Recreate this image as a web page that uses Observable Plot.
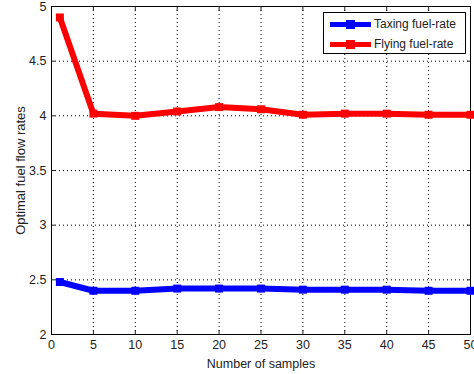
<!DOCTYPE html>
<html>
<head>
<meta charset="utf-8">
<script src="https://cdn.jsdelivr.net/npm/d3@7"></script>
<script src="https://cdn.jsdelivr.net/npm/@observablehq/plot@0.6"></script>
<style>
  html, body { margin: 0; padding: 0; background: #fff; }
  #wrap { position: relative; width: 474px; height: 374px; }
  #legend { position: absolute; left: 323px; top: 12px; width: 141px; height: 40px;
    border: 1px solid #000; background: #fff; font: 12px "Liberation Sans", Arial, sans-serif; color: #222; }
  .row { position: absolute; left: 6px; height: 14px; display: flex; align-items: center; }
  .sw { position: relative; width: 41px; height: 5px; margin-right: 3px; }
  .sw i { position: absolute; left: 16px; top: -2px; width: 9px; height: 9px; }
</style>
</head>
<body>
<div id="wrap"></div>
<script>
const samples = [1, 5, 10, 15, 20, 25, 30, 35, 40, 45, 50];
const taxing = [2.48, 2.40, 2.40, 2.42, 2.42, 2.42, 2.41, 2.41, 2.41, 2.40, 2.40];
const flying = [4.90, 4.02, 4.00, 4.04, 4.08, 4.06, 4.01, 4.02, 4.02, 4.01, 4.01];
const xTicks = [0, 5, 10, 15, 20, 25, 30, 35, 40, 45, 50];
const yTicks = [2, 2.5, 3, 3.5, 4, 4.5, 5];
const seriesNames = ["Taxing fuel-rate", "Flying fuel-rate"];
const seriesColors = ["#0000ff", "#ff0000"];

const data = [];
samples.forEach((s, i) => {
  data.push({x: s, y: taxing[i], series: seriesNames[0]});
  data.push({x: s, y: flying[i], series: seriesNames[1]});
});

const font = '"Liberation Sans", Arial, sans-serif';
const chart = Plot.plot({
  width: 474,
  height: 374,
  marginLeft: 51,
  marginRight: 4,
  marginTop: 6,
  marginBottom: 40,
  style: {fontFamily: font, fontSize: "12px", color: "#222", background: "#fff"},
  x: {domain: [0, 50]},
  y: {domain: [2, 5]},
  color: {domain: seriesNames, range: seriesColors},
  marks: [
    Plot.gridX(xTicks.filter(t => t > 0 && t < 50), {stroke: "#000", strokeOpacity: 1, strokeWidth: 1, strokeDasharray: "1,3"}),
    Plot.gridY(yTicks.filter(t => t > 2 && t < 5), {stroke: "#000", strokeOpacity: 1, strokeWidth: 1, strokeDasharray: "1,3"}),
    Plot.axisX(xTicks, {anchor: "bottom", tickSize: 0, tickPadding: 6, fontSize: 12.5, fill: "#222",
      label: null}),
    Plot.axisX(xTicks, {anchor: "bottom", tickSize: -4, text: null,
      label: "Number of samples", labelAnchor: "center", labelArrow: "none", labelOffset: 33, fontSize: 12.5, fill: "#222"}),
    Plot.axisX(xTicks, {anchor: "top", tickSize: -4, text: null, label: null}),
    Plot.axisY(yTicks, {anchor: "left", tickSize: 0, tickPadding: 5, fontSize: 12.5, fill: "#222",
      tickFormat: d => String(d), label: null}),
    Plot.axisY(yTicks, {anchor: "left", tickSize: -4, text: null,
      label: "Optimal fuel flow rates", labelAnchor: "center", labelArrow: "none", labelOffset: 36, fontSize: 13, fill: "#222"}),
    Plot.axisY(yTicks, {anchor: "right", tickSize: -4, text: null, label: null}),
    Plot.frame({stroke: "#000", strokeWidth: 1}),
    Plot.line(data, {x: "x", y: "y", stroke: "series", strokeWidth: 6, strokeLinejoin: "round"}),
    Plot.dot(data, {x: "x", y: "y", fill: "series", symbol: "square", r: 4.5})
  ]
});

const wrap = document.getElementById("wrap");
wrap.appendChild(chart);
const legend = document.createElement("div");
legend.id = "legend";
seriesNames.forEach((name, i) => {
  const row = document.createElement("div");
  row.className = "row";
  row.style.top = (4 + i * 20) + "px";
  const sw = document.createElement("span");
  sw.className = "sw";
  sw.style.background = seriesColors[i];
  const mk = document.createElement("i");
  mk.style.background = seriesColors[i];
  sw.appendChild(mk);
  row.appendChild(sw);
  row.appendChild(document.createTextNode(name));
  legend.appendChild(row);
});
wrap.appendChild(legend);
</script>
</body>
</html>
